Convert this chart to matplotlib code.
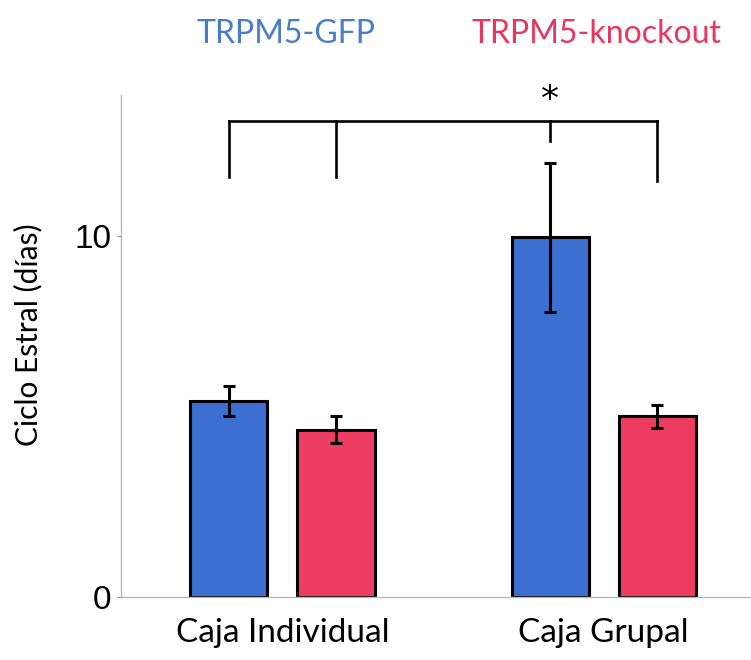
import numpy as np
import matplotlib
matplotlib.use('Agg')
import matplotlib.pyplot as plt

# datos
grupos = ['Caja Individual', 'Caja Grupal']
series = ['TRPM5-GFP', 'TRPM5-knockout']
gfp = [5.42, 9.95]
gfp_err = [0.42, 2.07]
ko = [4.63, 5.0]
ko_err = [0.37, 0.32]
# alturas del corchete de significancia
bracket_top = 13.16
bracket_ends = [11.63, 11.63, 12.63, 11.5]

azul = '#3d6fd1'
rojo = '#ef3d62'
fuente = 'Lato'

fig = plt.figure(figsize=(7.51, 6.6), dpi=100)
ax = fig.add_axes([0.161, 0.0955, 0.839, 0.761])

x = np.arange(len(grupos))
off = 1 / 6
w = 0.24
ax.bar(x - off, gfp, w, color=azul, edgecolor='black', linewidth=2.2, zorder=2)
ax.bar(x + off, ko, w, color=rojo, edgecolor='black', linewidth=2.2, zorder=2)
ax.errorbar(x - off, gfp, yerr=gfp_err, fmt='none', ecolor='black',
            elinewidth=2.2, capsize=4, capthick=2.2, zorder=3)
ax.errorbar(x + off, ko, yerr=ko_err, fmt='none', ecolor='black',
            elinewidth=2.2, capsize=4, capthick=2.2, zorder=3)

# corchete
xs = [x[0] - off, x[0] + off, x[1] - off, x[1] + off]
ax.plot([xs[0], xs[-1]], [bracket_top, bracket_top], color='black', lw=1.9, clip_on=False)
for xi, yb in zip(xs, bracket_ends):
    ax.plot([xi, xi], [bracket_top, yb], color='black', lw=1.9, clip_on=False)
ax.text(xs[2], 13.75, '*', ha='center', va='center', fontsize=26, clip_on=False)

ax.set_xlim(-0.503, 1.459)
ax.set_ylim(0, 13.9)
ax.set_yticks([0, 10])
ax.set_yticklabels(['0', '10'], fontsize=24, family='Liberation Sans')
ax.set_xticks(x)
ax.set_xticklabels(grupos, fontsize=24, family=fuente)
ax.tick_params(axis='x', length=0, pad=15)
ax.tick_params(axis='y', length=3, color='#6a9fa0', pad=4)
ax.set_ylabel('Ciclo Estral (días)', fontsize=21.5, family=fuente)
ax.yaxis.set_label_coords(-0.125, 0.522)

for s in ['top', 'right']:
    ax.spines[s].set_visible(False)
for s in ['left', 'bottom']:
    ax.spines[s].set_color('#b8b8b8')
    ax.spines[s].set_linewidth(1)

fig.text(286 / 751, 1 - 34 / 660, series[0], color='#4a7ccc', fontsize=23,
         family=fuente, ha='center', va='center')
fig.text(596 / 751, 1 - 34 / 660, series[1], color='#e8365e', fontsize=23,
         family=fuente, ha='center', va='center')

fig.savefig('out.png', dpi=100)
